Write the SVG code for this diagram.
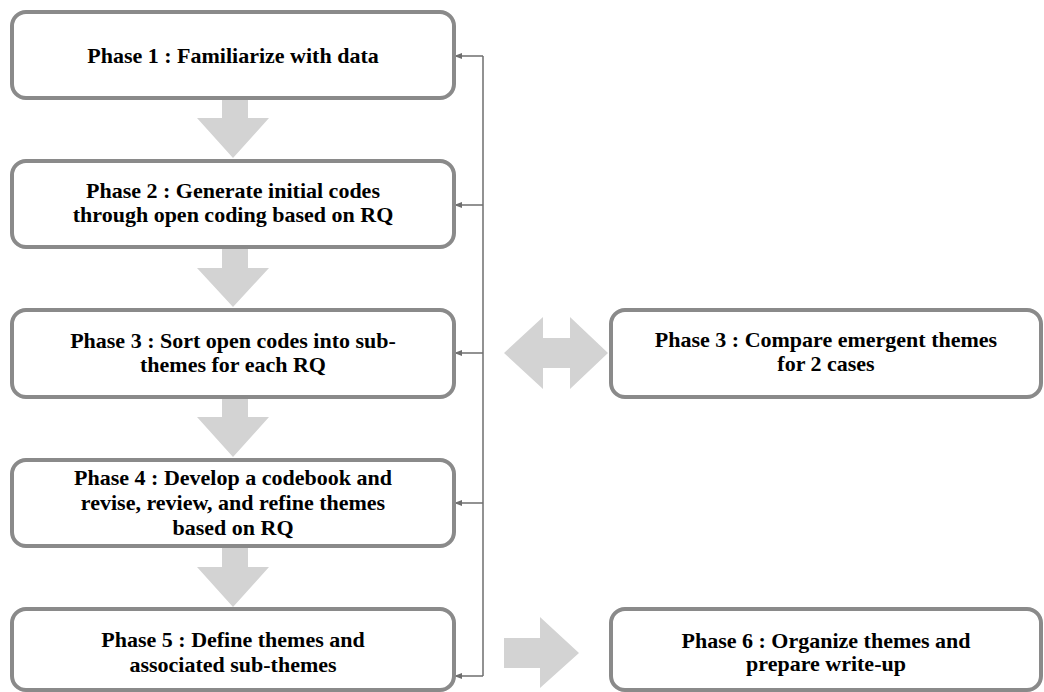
<svg xmlns="http://www.w3.org/2000/svg" width="1044" height="692" viewBox="0 0 1044 692">
  <defs>
    <style>
      .box { fill: #ffffff; stroke: #8a8a8a; stroke-width: 4; }
      .label { font-family: "Liberation Serif", "Times New Roman", serif; font-weight: bold; font-size: 22px; fill: #000000; text-anchor: middle; }
      .flow { fill: #d3d3d3; stroke: none; }
      .loop { fill: none; stroke: #6e6e6e; stroke-width: 1.5; }
    </style>
    <marker id="tip" viewBox="0 0 10 10" refX="9" refY="5" markerWidth="8" markerHeight="8" markerUnits="userSpaceOnUse" orient="auto">
      <path d="M0,1 L10,5 L0,9 Z" fill="#6e6e6e"/>
    </marker>
  </defs>

  <rect width="1044" height="692" fill="#ffffff"/>

  <!-- feedback loop back into each phase -->
  <g id="connectors">
    <path class="loop" d="M483,56 L483,676"/>
    <path class="loop" d="M483,56 L455,56" marker-end="url(#tip)"/>
    <path class="loop" d="M483,205 L455,205" marker-end="url(#tip)"/>
    <path class="loop" d="M483,353 L455,353" marker-end="url(#tip)"/>
    <path class="loop" d="M483,503 L455,503" marker-end="url(#tip)"/>
    <path class="loop" d="M483,676 L455,676" marker-end="url(#tip)"/>

    <!-- block arrows between phases -->
    <path class="flow" d="M222,98 L248,98 L248,118 L269,118 L233,158 L197,118 L222,118 Z"/>
    <path class="flow" d="M222,248 L248,248 L248,268 L269,268 L233,307 L197,268 L222,268 Z"/>
    <path class="flow" d="M222,398 L248,398 L248,417 L269,417 L233,457 L197,417 L222,417 Z"/>
    <path class="flow" d="M222,548 L248,548 L248,567 L269,567 L233,607 L197,567 L222,567 Z"/>
    <path class="flow" d="M504,353 L543,317 L543,338 L570,338 L570,317 L608,353 L570,389 L570,368 L543,368 L543,389 Z"/>
    <path class="flow" d="M504,638 L540,638 L540,617 L579,653 L540,688 L540,668 L504,668 Z"/>
  </g>

  <g id="phase1">
    <rect class="box" x="12" y="12" width="442" height="86" rx="14"/>
    <text class="label" x="233" y="63">Phase 1 : Familiarize with data</text>
  </g>

  <g id="phase2">
    <rect class="box" x="12" y="161" width="442" height="86" rx="14"/>
    <text class="label" x="233" y="198">Phase 2 : Generate initial codes</text>
    <text class="label" x="233" y="222">through open coding based on RQ</text>
  </g>

  <g id="phase3">
    <rect class="box" x="12" y="310" width="442" height="87" rx="14"/>
    <text class="label" x="233" y="348">Phase 3 : Sort open codes into sub-</text>
    <text class="label" x="233" y="372">themes for each RQ</text>
  </g>

  <g id="phase4">
    <rect class="box" x="12" y="460" width="442" height="86" rx="14"/>
    <text class="label" x="233" y="485">Phase 4 : Develop a codebook and</text>
    <text class="label" x="233" y="510">revise, review, and refine themes</text>
    <text class="label" x="233" y="535">based on RQ</text>
  </g>

  <g id="phase5">
    <rect class="box" x="12" y="609" width="442" height="81" rx="14"/>
    <text class="label" x="233" y="647">Phase 5 : Define themes and</text>
    <text class="label" x="233" y="672">associated sub-themes</text>
  </g>

  <g id="phase3-compare">
    <rect class="box" x="611" y="310" width="430" height="87" rx="14"/>
    <text class="label" x="826" y="347">Phase 3 : Compare emergent themes</text>
    <text class="label" x="826" y="371">for 2 cases</text>
  </g>

  <g id="phase6">
    <rect class="box" x="611" y="609" width="430" height="81" rx="14"/>
    <text class="label" x="826" y="648">Phase 6 : Organize themes and</text>
    <text class="label" x="826" y="671">prepare write-up</text>
  </g>
</svg>
